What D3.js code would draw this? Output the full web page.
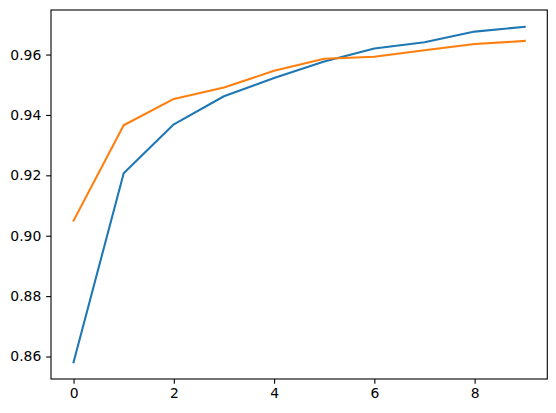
<!DOCTYPE html>
<html><head><meta charset="utf-8">
<script src="https://cdn.jsdelivr.net/npm/d3@7"></script>
<style>body{margin:0;background:#fff;} text{font-family:"DejaVu Sans",sans-serif;}</style>
</head><body>
<svg id="c" width="556" height="413"></svg>
<script>
const epochs = [0,1,2,3,4,5,6,7,8,9];
const seriesA = [0.8581,0.9207,0.9369,0.9462,0.9522,0.9577,0.9620,0.9641,0.9676,0.9692];
const seriesB = [0.9050,0.9366,0.9453,0.9491,0.9546,0.9586,0.9593,0.9614,0.9635,0.9645];
const xTicks = [0,2,4,6,8];
const yTicks = [0.86,0.88,0.90,0.92,0.94,0.96];
const colors = ["#1f77b4","#ff7f0e"];

const svg = d3.select("#c");
const L=51, R=547.3, T=10, B=379;
const all = seriesA.concat(seriesB);
const ymin=d3.min(all), ymax=d3.max(all), yr=ymax-ymin;
const x = d3.scaleLinear().domain([-0.45, 9.45]).range([L,R]);
const y = d3.scaleLinear().domain([ymin-0.05*yr, ymax+0.05*yr]).range([B,T]);

const line = d3.line().x((d,i)=>x(epochs[i])).y(d=>y(d));
[seriesA, seriesB].forEach((s,k)=>{
  svg.append("path").datum(s).attr("d",line).attr("fill","none")
    .attr("stroke",colors[k]).attr("stroke-width",2.08).attr("stroke-linejoin","round").attr("stroke-linecap","square");
});

const xa = svg.append("g").attr("transform",`translate(0,${B})`)
  .call(d3.axisBottom(x).tickValues(xTicks).tickFormat(d3.format("d")).tickSize(4.86).tickPadding(4.3));
const ya = svg.append("g").attr("transform",`translate(${L},0)`)
  .call(d3.axisLeft(y).tickValues(yTicks).tickFormat(d3.format(".2f")).tickSize(4.86).tickPadding(4.86));
[xa,ya].forEach(g=>{
  g.select(".domain").remove();
  g.selectAll("line").attr("stroke","#000").attr("stroke-width",1.1);
  g.selectAll("text").attr("font-size","13.9px").attr("fill","#000").attr("font-family","DejaVu Sans");
});
svg.append("rect").attr("x",L).attr("y",T).attr("width",R-L).attr("height",B-T)
  .attr("fill","none").attr("stroke","#000").attr("stroke-width",1.1);
</script>
</body></html>
